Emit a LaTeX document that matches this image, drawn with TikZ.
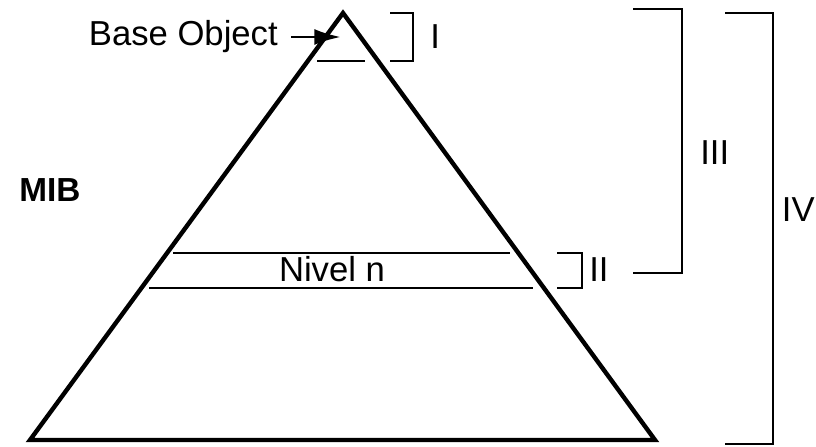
\documentclass[tikz,border=0pt]{standalone}
\usepackage{fontspec}
\setmainfont{Liberation Sans}
\usetikzlibrary{arrows.meta}

\tikzset{
  thinline/.style={line width=2.2pt},
  lbl/.style={font=\fontsize{26}{30}\selectfont, inner sep=0pt},
}

\begin{document}
\begin{tikzpicture}[x=0.75pt, y=-0.75pt]
    \useasboundingbox (0,0) rectangle (816,446);

    % The pyramid
    \coordinate (apex) at (343,13);
    \coordinate (bl) at (30,440);
    \coordinate (br) at (655,440);
    \draw[line width=3.3pt, line join=miter] (apex) -- (br) -- (bl) -- cycle;
    \node[lbl, font=\fontsize{25}{30}\selectfont\bfseries] (mib) at (50,190) {MIB};

    % Base object at the top
    \coordinate (bo1) at (317,61);
    \coordinate (bo2) at (365,61);
    \draw[thinline] (bo1) -- (bo2);
    \node[lbl, anchor=east] (base) at (278,37) {Base Object};
    \coordinate (botip) at (341,37);
    \draw[thinline, shorten <=10pt, -{Latex[length=20pt, width=12pt]}] (base) -- (botip);

    % Level n
    \coordinate (n1) at (173,253);
    \coordinate (n2) at (510,253);
    \coordinate (n3) at (149,288);
    \coordinate (n4) at (533,288);
    \draw[thinline] (n1) -- (n2);
    \draw[thinline] (n3) -- (n4);
    \node[lbl] (nivel) at (332,269) {Nivel n};

    % Brackets
    \coordinate (i1) at (390,13);
    \coordinate (i2) at (390,61);
    \draw[thinline] (i1) -- ++(23,0) |- (i2);
    \node[lbl, anchor=west] (one) at (430,37) {I};

    \coordinate (ii1) at (557,253);
    \coordinate (ii2) at (557,288);
    \draw[thinline] (ii1) -- ++(25,0) |- (ii2);
    \node[lbl, anchor=west] (two) at (589,270) {II};

    \coordinate (iii1) at (633,9);
    \coordinate (iii2) at (633,273);
    \draw[thinline] (iii1) -- ++(49,0) |- (iii2);
    \node[lbl, anchor=west] (three) at (700,153) {III};

    \coordinate (iv1) at (725,13);
    \coordinate (iv2) at (725,444);
    \draw[thinline] (iv1) -- ++(48,0) |- (iv2);
    \node[lbl, anchor=east] (four) at (815,210) {IV};
\end{tikzpicture}
\end{document}
